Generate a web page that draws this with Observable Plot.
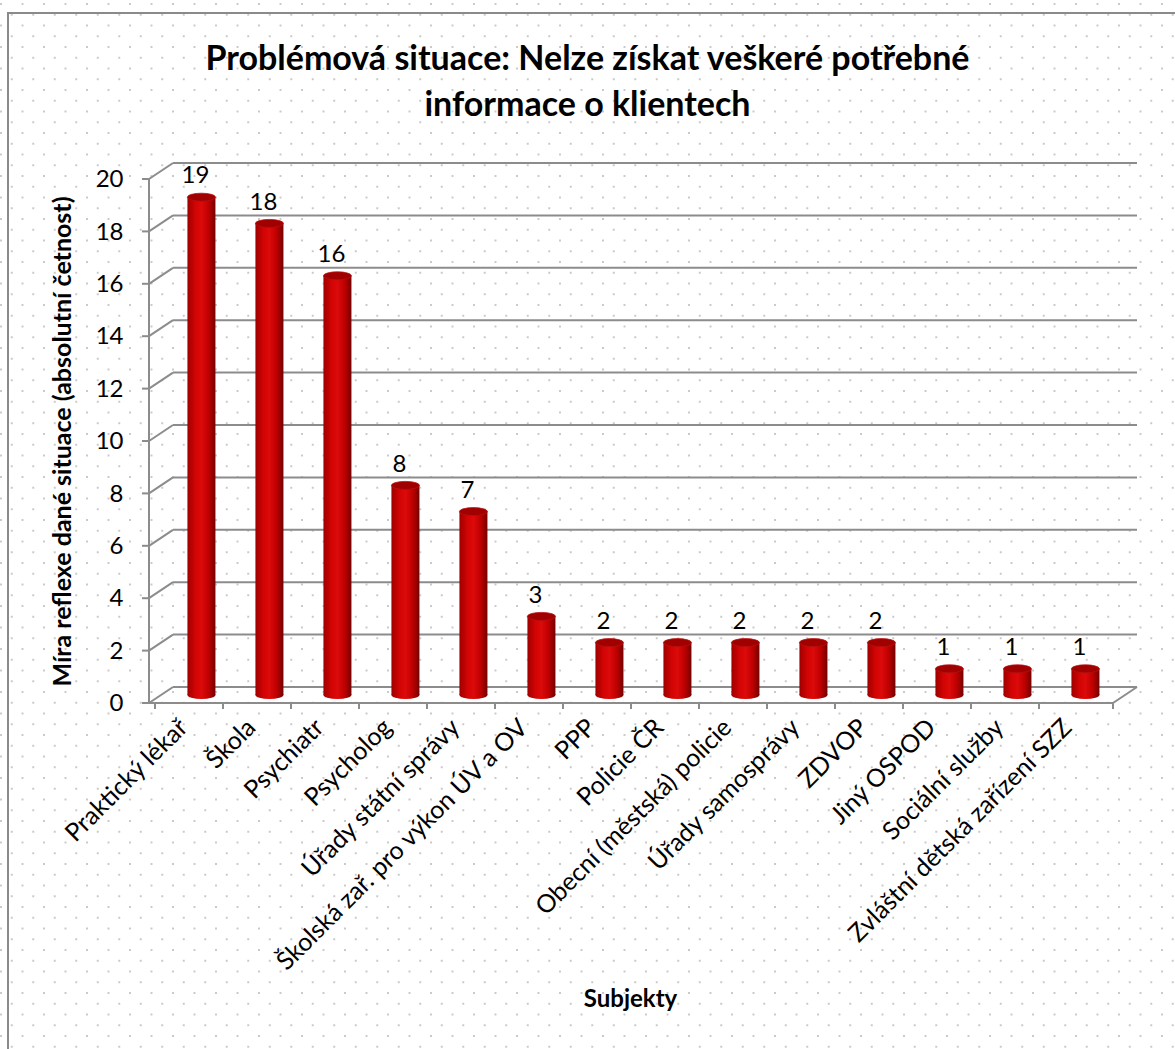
<!DOCTYPE html>
<html>
<head>
<meta charset="utf-8">
<script src="https://cdn.jsdelivr.net/npm/d3@7"></script>
<script src="https://cdn.jsdelivr.net/npm/@observablehq/plot@0.6"></script>
<style>
  html, body { margin: 0; padding: 0; background: #fff; }
  #wrap {
    position: relative; width: 1175px; height: 1049px; overflow: hidden;
    font-family: Lato, "Open Sans", sans-serif;
    background-color: #fff;
    background-image:
      radial-gradient(circle, #c9c9c9 0.9px, rgba(255,255,255,0) 1.4px),
      radial-gradient(circle, #c9c9c9 0.9px, rgba(255,255,255,0) 1.4px);
    background-size: 21.5px 21.5px, 21.5px 21.5px;
    background-position: 1px 4px, 11.75px 14.75px;
  }
  #border {
    position: absolute; left: 7px; top: 12px; width: 1200px; height: 1100px;
    border: 2px solid #8a8a8a; box-sizing: border-box;
  }
  #title {
    position: absolute; left: 0; top: 34px; width: 1175px; text-align: center;
    font-weight: bold; font-size: 34px; line-height: 46px; color: #000;
  }
  #chart { position: absolute; left: 0; top: 0; }
  #defs { position: absolute; width: 0; height: 0; }
</style>
</head>
<body>
<div id="wrap">
  <div id="border"></div>
  <svg id="defs" width="0" height="0">
    <defs>
      <linearGradient id="cyl" x1="0" x2="1" y1="0" y2="0">
        <stop offset="0" stop-color="#9e0000"/>
        <stop offset="0.3" stop-color="#d40404"/>
        <stop offset="0.5" stop-color="#dc0a0a"/>
        <stop offset="0.75" stop-color="#c00000"/>
        <stop offset="1" stop-color="#740000"/>
      </linearGradient>
    </defs>
  </svg>
  <div id="title">Problémová situace: Nelze získat veškeré potřebné<br>informace o klientech</div>
  <div id="chart"></div>
</div>
<script>
// ---- data ----
const categories = [
  "Praktický lékař", "Škola", "Psychiatr", "Psycholog", "Úřady státní správy",
  "Školská zař. pro výkon ÚV a OV", "PPP", "Policie ČR", "Obecní (městská) policie",
  "Úřady samosprávy", "ZDVOP", "Jiný OSPOD", "Sociální služby", "Zvláštní dětská zařízení SZZ"
];
const values = [19, 18, 16, 8, 7, 3, 2, 2, 2, 2, 2, 1, 1, 1];
const yTicks = [0, 2, 4, 6, 8, 10, 12, 14, 16, 18, 20];
const yTitle = "Míra reflexe dané situace (absolutní četnost)";
const xTitle = "Subjekty";

const data = categories.map((name, i) => ({name, value: values[i]}));

// 3D depth offsets (pixels)
const DX = 24, DY = -16;
const GRID = "#8c8c8c";

function frame3d(index, scales, vals, dims) {
  const {x, y} = scales;
  const x0 = dims.marginLeft, x1 = dims.width - dims.marginRight;
  const y0 = y(0);
  const g = d3.create("svg:g").attr("fill", "none").attr("stroke", GRID).attr("stroke-width", 2);
  const line = (a, b, c, d) => g.append("line").attr("x1", a).attr("y1", b).attr("x2", c).attr("y2", d);
  for (const t of yTicks) {
    const yy = y(t);
    line(x0 + DX, yy + DY, x1 + DX, yy + DY);   // back wall gridline
    line(x0, yy, x0 + DX, yy + DY);             // side wall slant
    line(x0 - 7, yy, x0, yy);                   // y tick
  }
  line(x0, y0, x1, y0);                         // front floor edge
  line(x1, y0, x1 + DX, y0 + DY);               // right floor slant
  line(x0, y0, x0, y(yTicks[yTicks.length - 1]));  // y axis
  const bounds = categories.map(c => x(c)).concat([x1]);
  for (const bx of bounds) line(bx, y0, bx, y0 + 6);
  return g.node();
}

function cylinders(index, scales, vals, dims) {
  const {x, y} = scales;
  const x0 = dims.marginLeft, x1 = dims.width - dims.marginRight;
  const step = (x1 - x0) / categories.length;
  const g = d3.create("svg:g");
  const rx = 14, ry = 4;
  for (const d of data) {
    const cx = x(d.name) + step / 2 + DX / 2;
    const top = y(d.value) + DY / 2;
    const bot = y(0) + DY / 2;
    g.append("ellipse").attr("cx", cx).attr("cy", bot).attr("rx", rx).attr("ry", ry).attr("fill", "url(#cyl)");
    g.append("rect").attr("x", cx - rx).attr("y", top).attr("width", 2 * rx).attr("height", bot - top).attr("fill", "url(#cyl)");
    g.append("ellipse").attr("cx", cx).attr("cy", top).attr("rx", rx).attr("ry", ry)
      .attr("fill", "#a00000").attr("stroke", "#b81010").attr("stroke-width", 0.8);
  }
  return g.node();
}

const chart = Plot.plot({
  width: 1175,
  height: 1049,
  marginLeft: 149,
  marginRight: 62,
  marginTop: 179,
  marginBottom: 346,
  style: {background: "transparent", fontFamily: "Lato, 'Open Sans', sans-serif", color: "#000", overflow: "visible"},
  x: {type: "band", domain: categories, padding: 0, label: null},
  y: {domain: [0, 20], label: null},
  marks: [
    frame3d,
    cylinders,
    Plot.text(data, {x: "name", y: "value", text: d => String(d.value), dx: 6, dy: -30, fontSize: 24, fill: "#000", lineAnchor: "middle"}),
    Plot.axisY({ticks: yTicks, tickSize: 0, tickPadding: 26, fontSize: 24, label: null, tickFormat: d => String(d)}),
    Plot.axisX({tickSize: 0, tickPadding: 14, tickRotate: -45, fontSize: 25, label: null, dx: -6, dy: 6}),
    Plot.text([yTitle], {frameAnchor: "left", rotate: -90, dx: -87, fontSize: 25, fontWeight: "bold", fill: "#000", textAnchor: "middle"}),
    Plot.text([xTitle], {frameAnchor: "bottom", dx: -1, dy: 303, fontSize: 24, fontWeight: "bold", fill: "#000"})
  ]
});
document.getElementById("chart").appendChild(chart);
</script>
</body>
</html>
